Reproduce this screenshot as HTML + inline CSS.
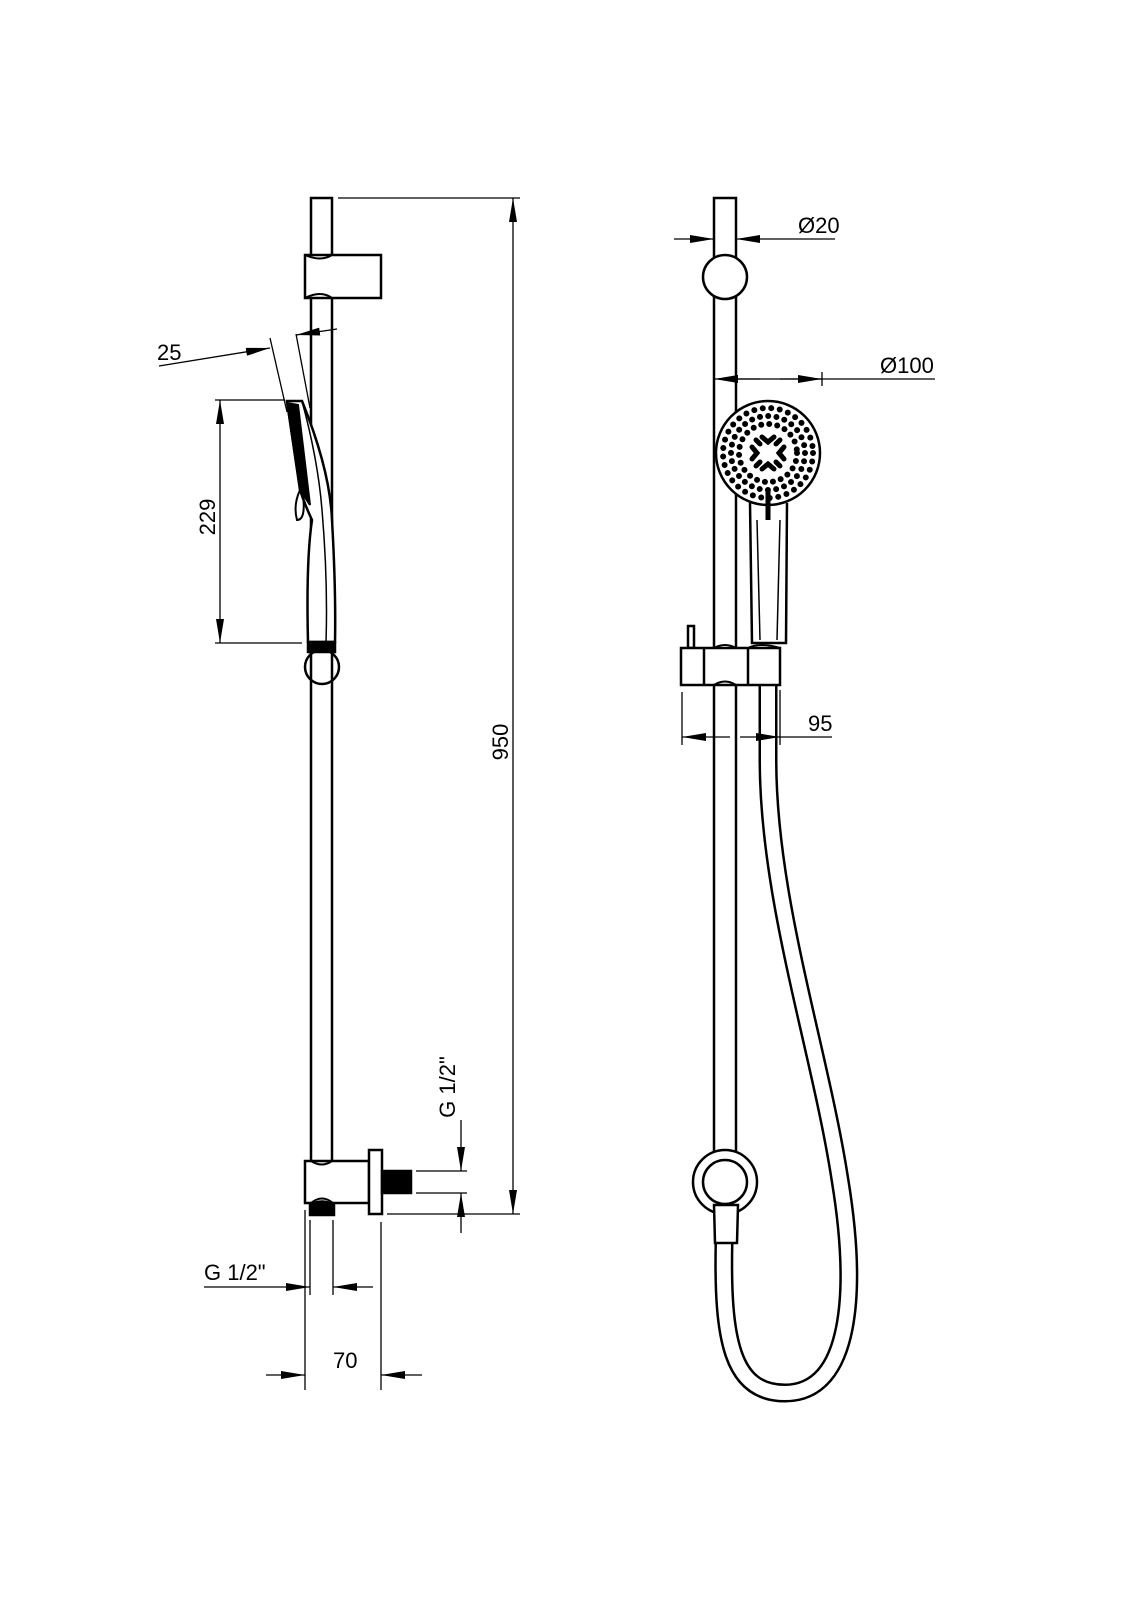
<!DOCTYPE html>
<html><head><meta charset="utf-8"><style>html,body{margin:0;padding:0;background:#fff}svg{display:block}text{font-family:"Liberation Sans",sans-serif;font-size:22px;fill:#000}</style></head>
<body>
<svg width="1131" height="1600" viewBox="0 0 1131 1600" xmlns="http://www.w3.org/2000/svg">
<defs>
<marker id="b" viewBox="0 0 24 8" refX="24" refY="4" markerWidth="24" markerHeight="8" markerUnits="userSpaceOnUse" orient="auto-start-reverse"><path d="M0,0 L24,4 L0,8 z" fill="#000"/></marker>
</defs>
<g fill="none" stroke="#000" stroke-width="2.5">
<path d="M311,1161 V198 H332 V1161"/>
<rect x="305" y="255" width="76" height="43" fill="#fff"/>
<path d="M305,255 Q321,262 332,255 M305,298 Q321,290 332,298" stroke-width="2"/>
<path d="M287,401 L302,401 Q330,470 332,520 Q336,590 335,642 L308,642 Q306,560 312,520 Q305,505 300,490 L287,401 Z" fill="#fff"/>
<path d="M287,403 L300,490 L310,505 L298,405 Z" fill="#000" stroke-width="2"/>
<path d="M302,401 Q318,460 322,510 Q328,580 326,642" stroke-width="1.5"/>
<path d="M300,490 Q293,505 297,520 Q306,520 303,495" stroke-width="2"/>
<rect x="308" y="642" width="27" height="10" fill="#000"/>
<circle cx="322" cy="667" r="17" fill="none"/>
<rect x="305" y="1161" width="64" height="42" fill="#fff"/>
<path d="M311,1161 Q322,1168 332,1161 M311,1203 Q322,1194 333,1203" stroke-width="2"/>
<rect x="369" y="1150" width="13" height="64" fill="#fff"/>
<rect x="382" y="1171" width="29" height="22" fill="#000"/>
<path d="M310,1215 V1205 Q322,1198 334,1205 V1215 Z" fill="#000"/>
</g>
<g stroke="#000" stroke-width="1.3" fill="none">
<line x1="338" y1="198" x2="520" y2="198"/>
<line x1="513" y1="198" x2="513" y2="1214" marker-start="url(#b)" marker-end="url(#b)"/>
<line x1="387" y1="1214" x2="520" y2="1214"/>
<line x1="215" y1="400" x2="285" y2="400"/>
<line x1="215" y1="643" x2="302" y2="643"/>
<line x1="220" y1="400" x2="220" y2="643" marker-start="url(#b)" marker-end="url(#b)"/>
<line x1="159" y1="366" x2="270" y2="348" marker-end="url(#b)"/>
<line x1="337" y1="329" x2="296" y2="335" marker-end="url(#b)"/>
<line x1="270" y1="338" x2="287" y2="412"/>
<line x1="296" y1="334" x2="310" y2="408"/>
<line x1="305" y1="1210" x2="305" y2="1390"/>
<line x1="310" y1="1220" x2="310" y2="1295"/>
<line x1="333" y1="1220" x2="333" y2="1295"/>
<line x1="381" y1="1222" x2="381" y2="1390"/>
<line x1="204" y1="1287" x2="310" y2="1287" marker-end="url(#b)"/>
<line x1="373" y1="1287" x2="333" y2="1287" marker-end="url(#b)"/>
<line x1="266" y1="1375" x2="305" y2="1375" marker-end="url(#b)"/>
<line x1="422" y1="1375" x2="381" y2="1375" marker-end="url(#b)"/>
<line x1="416" y1="1171" x2="467" y2="1171"/>
<line x1="416" y1="1193" x2="467" y2="1193"/>
<line x1="461" y1="1120" x2="461" y2="1171" marker-end="url(#b)"/>
<line x1="461" y1="1233" x2="461" y2="1193" marker-end="url(#b)"/>
</g>
<text x="157" y="360">25</text>
<text transform="translate(215,517) rotate(-90)" text-anchor="middle">229</text>
<text transform="translate(508,742) rotate(-90)" text-anchor="middle">950</text>
<text transform="translate(455,1087) rotate(-90)" text-anchor="middle">G 1/2"</text>
<text x="204" y="1280">G 1/2"</text>
<text x="333" y="1368">70</text>
<g fill="none" stroke="#000" stroke-width="2.5">
<path d="M714,1160 V198 H736 V1160"/>
<circle cx="725" cy="277" r="22" fill="#fff"/>
<path d="M768,685 L768,760 C768,900 820,1050 840,1180 C858,1290 852,1393 785,1393 C732,1393 722,1340 724,1243" stroke-width="19"/>
<path d="M768,685 L768,760 C768,900 820,1050 840,1180 C858,1290 852,1393 785,1393 C732,1393 722,1340 724,1243" stroke="#fff" stroke-width="14"/>
<path d="M750,503 L752,643 L786,643 L787,503" fill="#fff"/>
<path d="M757,520 L760,640 M780,520 L777,640" stroke-width="1.5"/>
<circle cx="768" cy="453" r="52" fill="#fff"/>
<line x1="768" y1="490" x2="768" y2="520" stroke-width="5"/>
<rect x="688" y="626" width="6" height="22" fill="#fff"/>
<rect x="681" y="648" width="99" height="37" fill="#fff"/>
<path d="M704,648 V685 M748,648 V685"/>
<path d="M714,648 Q725,642 736,648 M714,685 Q725,678 736,685 M748,648 Q760,642 780,648" stroke-width="2"/>
<circle cx="725" cy="1182" r="32" fill="#fff"/>
<circle cx="725" cy="1182" r="22" fill="#fff"/>
<path d="M714,1205 L738,1205 L737,1243 L715,1243 Z" fill="#fff"/>
</g>
<g fill="none" stroke="#000" stroke-linecap="round" stroke-width="6">
<circle cx="768" cy="453" r="45" stroke-dasharray="0 8.6"/>
<circle cx="768" cy="453" r="37" stroke-dasharray="0 8.3"/>
<circle cx="768" cy="453" r="29" stroke-dasharray="0 8.1"/>
</g>
<g stroke="#000" stroke-width="5" stroke-linecap="round" fill="none">
<path d="M762,437 L768,442 L774,437 M762,469 L768,464 L774,469 M752,447 L757,453 L752,459 M784,447 L779,453 L784,459 M756,440 L760,444 M780,440 L776,444 M756,466 L760,462 M780,466 L776,462"/>
</g>
<g stroke="#000" stroke-width="1.3" fill="none">
<line x1="674" y1="239" x2="714" y2="239" marker-end="url(#b)"/>
<line x1="835" y1="239" x2="736" y2="239" marker-end="url(#b)"/>
<line x1="760" y1="379" x2="714" y2="379" marker-end="url(#b)"/>
<line x1="780" y1="379" x2="822" y2="379" marker-end="url(#b)"/>
<line x1="736" y1="379" x2="935" y2="379"/>
<line x1="822" y1="372" x2="822" y2="386"/>
<line x1="682" y1="692" x2="682" y2="745"/>
<line x1="780" y1="690" x2="780" y2="745"/>
<line x1="730" y1="737" x2="682" y2="737" marker-end="url(#b)"/>
<line x1="740" y1="737" x2="780" y2="737" marker-end="url(#b)"/>
<line x1="780" y1="737" x2="832" y2="737"/>
</g>
<text x="798" y="233">Ø20</text>
<text x="880" y="373">Ø100</text>
<text x="808" y="731">95</text>
</svg>
</body></html>
